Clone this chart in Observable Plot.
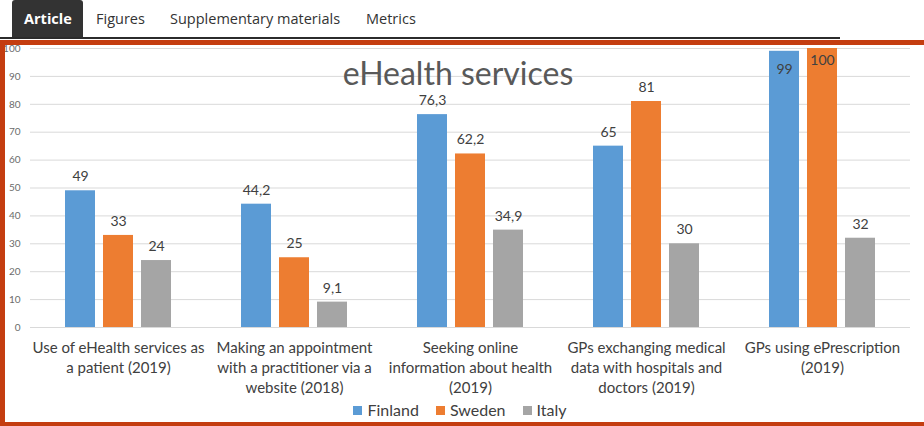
<!DOCTYPE html>
<html>
<head>
<meta charset="utf-8">
<script src="https://cdn.jsdelivr.net/npm/d3@7"></script>
<script src="https://cdn.jsdelivr.net/npm/@observablehq/plot@0.6"></script>
<style>
  html, body { margin: 0; padding: 0; background: #fff; }
  body { width: 924px; height: 426px; position: relative; overflow: hidden; font-family: "Open Sans", sans-serif; }
  .tab { position: absolute; top: 0; height: 38px; line-height: 38px; font-size: 14.5px; color: #333; white-space: nowrap; }
  .tab.active { background: #333; color: #fff; font-weight: 700; border-radius: 3px 3px 0 0; padding: 0 12px; box-sizing: border-box; }
  .tabline { position: absolute; left: 0; top: 37px; width: 840px; height: 2px; background: #2b2b2b; }
  .frame { position: absolute; left: 0; top: 40px; width: 960px; height: 386px; box-sizing: border-box;
           border-top: 5px solid #c43d10; border-left: 5px solid #c43d10; border-bottom: 4px solid #c43d10; z-index: 5; pointer-events: none; }
  #chart { position: absolute; left: 0; top: 44px; }
  #title { position: absolute; left: 0; width: 916px; text-align: center; top: 57px; font-family: Lato, sans-serif; font-size: 32px; line-height: 32px; color: #595959; z-index: 3; }
  #legend { position: absolute; left: 0; width: 920px; top: 401px; height: 18px; display: flex; justify-content: center; align-items: center; z-index: 3; }
  #legend > div { min-height: 0 !important; margin: 0 !important; line-height: 18px !important; display: flex !important; align-items: center; }
  .lg-swatch { margin-right: 17px !important; }
  .lg-swatch:last-child { margin-right: 0 !important; }
  .lg-swatch svg { margin-right: 5px !important; }
</style>
</head>
<body>
<div class="tab active" style="left:12px;width:71px;">Article</div>
<div class="tab" style="left:96px;">Figures</div>
<div class="tab" style="left:170px;">Supplementary materials</div>
<div class="tab" style="left:366px;">Metrics</div>
<div class="tabline"></div>
<div class="frame"></div>
<div id="chart"></div>
<div id="title"></div>
<div id="legend"></div>
<script>
const titleText = "eHealth services";
const categories = [
  "Use of eHealth services as a patient (2019)",
  "Making an appointment with a practitioner via a website (2018)",
  "Seeking online information about health (2019)",
  "GPs exchanging medical data with hospitals and doctors (2019)",
  "GPs using ePrescription (2019)"
];
const categoryTickLabels = [
  "Use of eHealth services as\na patient (2019)",
  "Making an appointment\nwith a practitioner via a\nwebsite (2018)",
  "Seeking online\ninformation about health\n(2019)",
  "GPs exchanging medical\ndata with hospitals and\ndoctors (2019)",
  "GPs using ePrescription\n(2019)"
];
const series = ["Finland", "Sweden", "Italy"];
const finland = [49, 44.2, 76.3, 65, 99];
const sweden = [33, 25, 62.2, 81, 100];
const italy = [24, 9.1, 34.9, 30, 32];
const yTicks = [0, 10, 20, 30, 40, 50, 60, 70, 80, 90, 100];
const colors = ["#5b9bd5", "#ed7d31", "#a5a5a5"];

const seriesValues = [finland, sweden, italy];
const data = categories.flatMap((c, i) =>
  series.map((s, j) => ({category: c, country: s, value: seriesValues[j][i]}))
);
const fmt = v => String(v).replace(".", ",");

const chart = Plot.plot({
  width: 924,
  height: 382,
  marginTop: 4,
  marginBottom: 99,
  marginLeft: 30,
  marginRight: 14,
  style: {fontFamily: "Lato, sans-serif", background: "transparent", overflow: "visible"},
  fx: {domain: categories, padding: 0, label: null},
  x: {domain: series, axis: null, paddingInner: 0.205, paddingOuter: 0.86},
  y: {domain: [0, 100], label: null},
  color: {domain: series, range: colors},
  marks: [
    Plot.gridY(yTicks, {stroke: "#d9d9d9", strokeOpacity: 1}),
    Plot.axisY(yTicks, {tickSize: 0, tickPadding: 10, fontSize: 10, fill: "#6b6b6b", label: null}),
    Plot.axisFx({anchor: "bottom", tickSize: 0, tickPadding: 11, fontSize: 15, fill: "#404040",
      lineHeight: 1.34, label: null, tickFormat: d => categoryTickLabels[categories.indexOf(d)]}),
    Plot.barY(data, {fx: "category", x: "country", y: "value", fill: "country"}),
    Plot.text(data.filter(d => d.value < 95), {fx: "category", x: "country", y: "value",
      text: d => fmt(d.value), dy: -14, fontSize: 14, fill: "#404040"}),
    Plot.text(data.filter(d => d.value >= 95 && d.value < 99.5), {fx: "category", x: "country", y: "value",
      text: d => fmt(d.value), dy: 18, fontSize: 14, fill: "#404040"}),
    Plot.text(data.filter(d => d.value >= 99.5), {fx: "category", x: "country", y: "value",
      text: d => fmt(d.value), dy: 12, fontSize: 14, fill: "#404040"})
  ]
});
document.getElementById("chart").appendChild(chart);
document.getElementById("title").textContent = titleText;

const legend = Plot.legend({
  color: {domain: series, range: colors},
  legend: "swatches",
  swatchSize: 9,
  className: "lg",
  style: {fontFamily: "Lato, sans-serif", fontSize: "16px", color: "#404040", margin: 0}
});
document.getElementById("legend").appendChild(legend);
</script>
</body>
</html>
